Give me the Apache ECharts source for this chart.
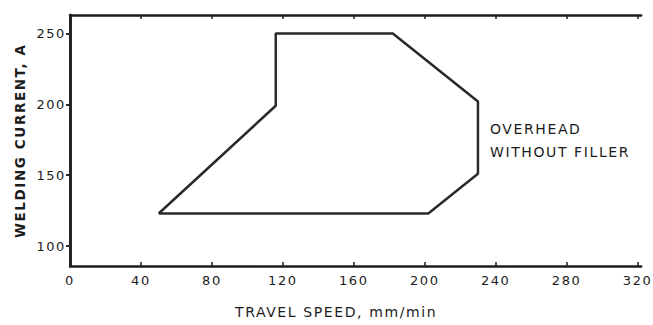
<!DOCTYPE html>
<html>
<head>
<meta charset="utf-8">
<script src="https://cdn.jsdelivr.net/npm/echarts@6/dist/echarts.min.js"></script>
<style>
  html, body { margin: 0; padding: 0; background: #fff; }
  #chart { width: 653px; height: 325px; }
  /* the scanned figure uses wide-set lettering */
  #chart text { letter-spacing: 1.6px; }
</style>
</head>
<body>
<div id="chart"></div>
<script>
// envelope outline, closed back to start
const speed = [50, 116, 116, 182, 230, 230, 202, 50];
const current = [123, 199, 250, 250, 202, 151, 123, 123];
const xTicks = [0, 40, 80, 120, 160, 200, 240, 280, 320];
const yTicks = [100, 150, 200, 250];
const regionLabel = ["OVERHEAD", "WITHOUT FILLER"];

const ink = "#1c1c1c";
const font = "DejaVu Sans";

const mychart = echarts.init(document.getElementById("chart"), null, { renderer: "svg" });

const pts = speed.map(function (s, i) { return [s, current[i]]; });

mychart.setOption({
  animation: false,
  grid: { left: 70, right: 11, top: 15, bottom: 59 },
  xAxis: [
    {
      type: "value",
      min: 0,
      max: 322,
      position: "bottom",
      axisLine: { show: true, lineStyle: { color: ink, width: 2.5 } },
      axisTick: { show: true, inside: true, length: 4, customValues: xTicks, lineStyle: { color: ink, width: 1.5 } },
      axisLabel: { customValues: xTicks, color: ink, fontFamily: font, fontSize: 13, margin: 8 },
      splitLine: { show: false }
    },
    {
      type: "value",
      min: 0,
      max: 322,
      position: "top",
      axisLine: { show: true, lineStyle: { color: ink, width: 2.5 } },
      axisTick: { show: true, inside: true, length: 4, customValues: xTicks, lineStyle: { color: ink, width: 1.5 } },
      axisLabel: { show: false },
      splitLine: { show: false }
    }
  ],
  yAxis: [
    {
      type: "value",
      min: 86,
      max: 263,
      position: "left",
      axisLine: { show: true, lineStyle: { color: ink, width: 2.5 } },
      axisTick: { show: true, length: 4, customValues: yTicks, lineStyle: { color: ink, width: 1.5 } },
      axisLabel: { customValues: yTicks, color: ink, fontFamily: font, fontSize: 13, margin: 4 },
      splitLine: { show: false }
    },
    {
      type: "value",
      min: 86,
      max: 263,
      position: "right",
      axisLine: { show: true, lineStyle: { color: ink, width: 2.5 } },
      axisTick: { show: true, inside: true, length: 4, customValues: yTicks, lineStyle: { color: ink, width: 1.5 } },
      axisLabel: { show: false },
      splitLine: { show: false }
    }
  ],
  graphic: [
    {
      type: "text",
      left: 235,
      top: 305,
      style: { text: "TRAVEL SPEED, mm/min", fill: ink, font: "14px " + font }
    },
    {
      type: "text",
      x: 13,
      y: 238,
      rotation: Math.PI / 2,
      style: { text: "WELDING CURRENT, A", fill: ink, font: "bold 13.5px " + font }
    },
    {
      type: "text",
      left: 490,
      top: 117,
      style: { text: regionLabel.join("\n"), fill: ink, font: "14px " + font, lineHeight: 23 }
    }
  ],
  series: [
    {
      type: "line",
      data: pts,
      symbol: "none",
      lineStyle: { color: "#2a2a2a", width: 2.5 },
      z: 3
    }
  ]
});
</script>
</body>
</html>
